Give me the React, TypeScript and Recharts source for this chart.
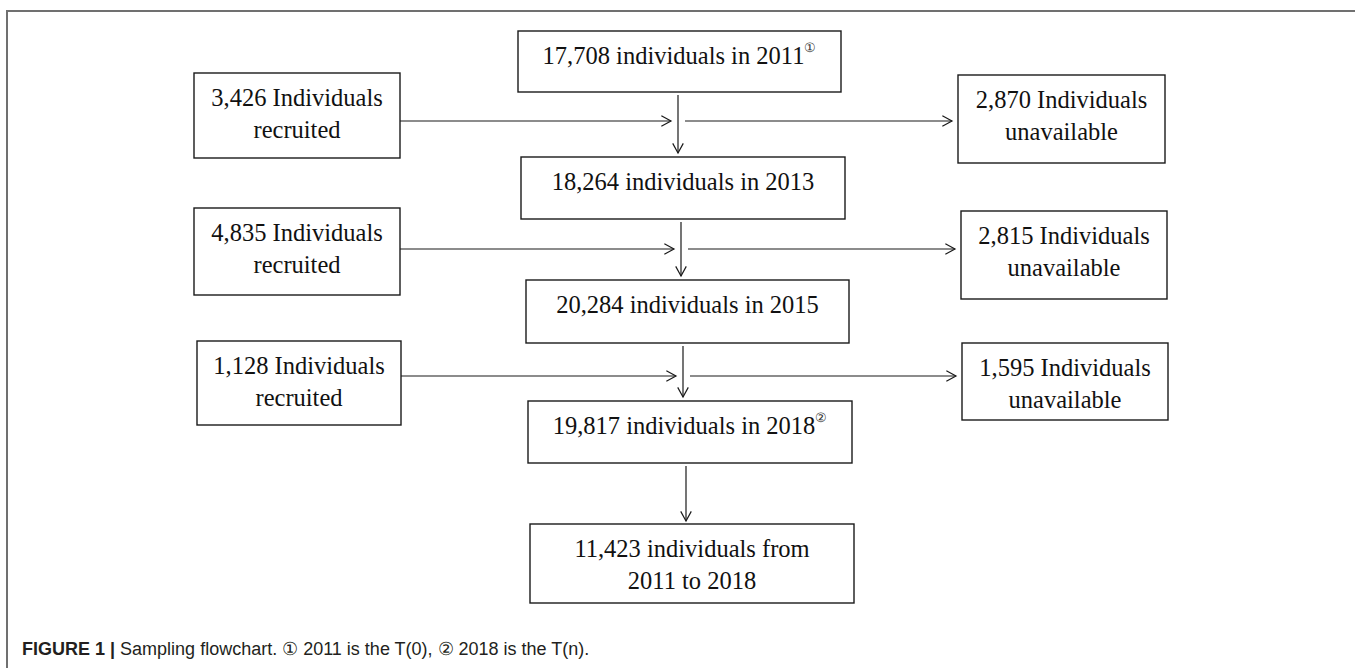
/**
 * Sampling flowchart - cohort size per wave, recruited and lost between waves.
 */
import { ScatterChart, Scatter, XAxis, YAxis, ReferenceLine } from 'recharts'

// cohort size per wave
const waveYears = ['2011', '2013', '2015', '2018']
const waveCounts = ['17,708', '18,264', '20,284', '19,817']
const waveNotes = ['\u2460', '', '', '\u2461']

// changes between consecutive waves
const recruitedCounts = ['3,426', '4,835', '1,128']
const unavailableCounts = ['2,870', '2,815', '1,595']

// balanced panel
const panelCount = '11,423'
const panelRange = ['2011', '2018']

const captionLabel = 'FIGURE 1'
const captionText = 'Sampling flowchart. \u2460 2011 is the T(0), \u2461 2018 is the T(n).'

// ---- layout (page pixels, 1 data unit = 1px) ----
const W = 1355
const H = 668
// [left, top, width, height]
const waveBoxes = [
  [518, 31, 323, 61],
  [521, 157, 324, 62],
  [526, 280, 323, 63],
  [528, 401, 324, 62],
]
const panelBox = [530, 524, 324, 79]
const recruitedBoxes = [
  [194, 73, 206, 85],
  [194, 208, 206, 87],
  [197, 341, 204, 84],
]
const unavailableBoxes = [
  [958, 75, 207, 88],
  [961, 211, 206, 88],
  [962, 343, 206, 77],
]
const arrowRows = [121, 249, 376]
const spineX = [678, 681, 683, 686]

const SERIF = '"Liberation Serif", "Times New Roman", serif'
const INK = '#1a1a1a'

interface Node {
  x: number
  y: number
  w: number
  h: number
  lines: string[]
  note?: string
}

const makeNode = (box: number[], lines: string[], note = ''): Node => ({
  x: box[0] + box[2] / 2,
  y: box[1] + box[3] / 2,
  w: box[2],
  h: box[3],
  lines,
  note,
})

const nodes: Node[] = [
  ...waveCounts.map((c, i) =>
    makeNode(waveBoxes[i], [`${c} individuals in ${waveYears[i]}`], waveNotes[i])
  ),
  ...recruitedCounts.map((c, i) =>
    makeNode(recruitedBoxes[i], [`${c} Individuals`, 'recruited'])
  ),
  ...unavailableCounts.map((c, i) =>
    makeNode(unavailableBoxes[i], [`${c} Individuals`, 'unavailable'])
  ),
  makeNode(panelBox, [
    `${panelCount} individuals from`,
    `${panelRange[0]} to ${panelRange[1]}`,
  ]),
]

// arrows: [x1, y1, x2, y2]
const arrows: number[][] = []
arrowRows.forEach((y, i) => {
  const r = recruitedBoxes[i]
  const u = unavailableBoxes[i]
  const top = waveBoxes[i]
  const next = waveBoxes[i + 1]
  arrows.push([r[0] + r[2], y, spineX[i] - 7, y])
  arrows.push([spineX[i], top[1] + top[3] + 3, spineX[i], next[1] - 4])
  arrows.push([spineX[i] + 7, y, u[0] - 6, y])
})
{
  const last = waveBoxes[3]
  arrows.push([spineX[3], last[1] + last[3] + 3, spineX[3], panelBox[1] - 3])
}

const ArrowShape = (props: any) => {
  const { x1, y1, x2, y2 } = props
  const ang = Math.atan2(y2 - y1, x2 - x1)
  const len = 11
  const spread = 0.5
  const ax = x2 - len * Math.cos(ang - spread)
  const ay = y2 - len * Math.sin(ang - spread)
  const bx = x2 - len * Math.cos(ang + spread)
  const by = y2 - len * Math.sin(ang + spread)
  return (
    <g>
      <line x1={x1} y1={y1} x2={x2} y2={y2} stroke={INK} strokeWidth={1.2} />
      <path
        d={`M${ax},${ay}L${x2},${y2}L${bx},${by}`}
        fill="none"
        stroke={INK}
        strokeWidth={1.2}
      />
    </g>
  )
}

const BoxShape = (props: any) => {
  const { cx, cy, payload } = props
  const { w, h, lines, note } = payload as Node
  const left = cx - w / 2
  const top = cy - h / 2
  return (
    <g>
      <rect
        x={left}
        y={top}
        width={w}
        height={h}
        fill="#fff"
        stroke={INK}
        strokeWidth={1.4}
      />
      {lines.map((t, i) => (
        <text
          key={i}
          x={cx}
          y={top + 33 + i * 32}
          textAnchor="middle"
          fontFamily={SERIF}
          fontSize={24.5}
          fill="#111"
        >
          {t}
          {i === 0 && note ? (
            <tspan dy={-12} fontSize={13} fill="#333">
              {note}
            </tspan>
          ) : null}
        </text>
      ))}
    </g>
  )
}

export default function App() {
  return (
    <div
      style={{
        position: 'absolute',
        left: 0,
        top: 0,
        width: W,
        height: H,
        background: '#fff',
      }}
    >
      <ScatterChart
        width={W}
        height={H}
        margin={{ top: 0, right: 0, bottom: 0, left: 0 }}
      >
        <XAxis type="number" dataKey="x" domain={[0, W]} allowDataOverflow hide />
        <YAxis
          type="number"
          dataKey="y"
          domain={[0, H]}
          allowDataOverflow
          reversed
          hide
        />
        {/* figure frame */}
        <ReferenceLine
          segment={[
            { x: 6, y: 11 },
            { x: W, y: 11 },
          ]}
          stroke="#707070"
          strokeWidth={2}
        />
        <ReferenceLine
          segment={[
            { x: 7, y: 10 },
            { x: 7, y: H },
          ]}
          stroke="#707070"
          strokeWidth={2}
        />
        {arrows.map((a, i) => (
          <ReferenceLine
            key={`arrow-${i}`}
            segment={[
              { x: a[0], y: a[1] },
              { x: a[2], y: a[3] },
            ]}
            shape={ArrowShape}
          />
        ))}
        <Scatter data={nodes} shape={BoxShape} isAnimationActive={false} />
      </ScatterChart>
      <div
        style={{
          position: 'absolute',
          left: 22,
          top: 640,
          fontFamily: '"Liberation Sans", Arial, sans-serif',
          fontSize: 18,
          lineHeight: '18px',
          color: '#231f20',
          whiteSpace: 'nowrap',
        }}
      >
        <b>{captionLabel}</b> <b>|</b> {captionText}
      </div>
    </div>
  )
}
